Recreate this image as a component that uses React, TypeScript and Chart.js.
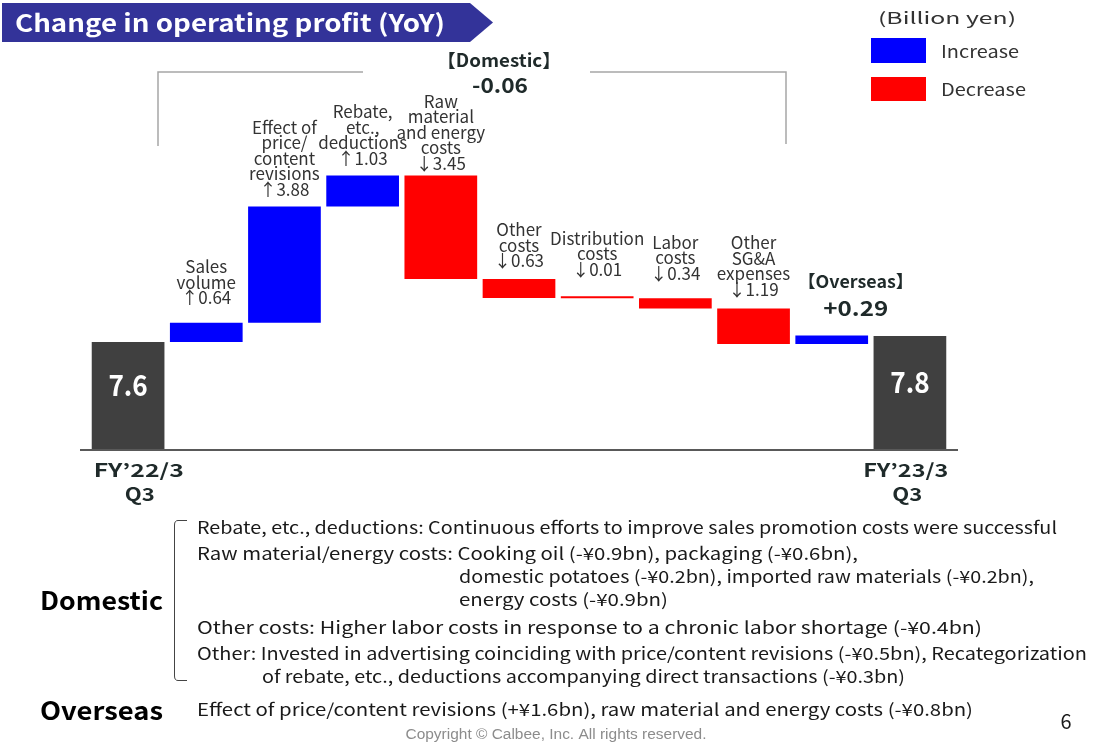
import React, { useEffect, useRef } from "react";
import { Chart, registerables } from "chart.js";

Chart.register(...registerables);

// ---------- data ----------
const categories = [
  "FY'22/3 Q3",
  "Sales volume",
  "Effect of price/content revisions",
  "Rebate, etc., deductions",
  "Raw material and energy costs",
  "Other costs",
  "Distribution costs",
  "Labor costs",
  "Other SG&A expenses",
  "Overseas",
  "FY'23/3 Q3",
];
const startValue = 7.6;
const endValue = 7.8;
const changes = [0.64, 3.88, 1.03, -3.45, -0.63, -0.01, -0.34, -1.19, 0.29];
const axisMin = 4;
const axisMax = 16;

const barLabels: string[][] = [
  [],
  ["Sales", "volume", "↑0.64"],
  ["Effect of", "price/", "content", "revisions", "↑3.88"],
  ["Rebate,", "etc.,", "deductions", "↑1.03"],
  ["Raw", "material", "and energy", "costs", "↓3.45"],
  ["Other", "costs", "↓0.63"],
  ["Distribution", "costs", "↓0.01"],
  ["Labor", "costs", "↓0.34"],
  ["Other", "SG&A", "expenses", "↓1.19"],
  ["【Overseas】", "+0.29"],
  [],
];
const endLabels = [
  ["FY’22/3", "Q3"],
  ["FY’23/3", "Q3"],
];
const domesticTitle = "【Domestic】";
const domesticTotal = "-0.06";
const unitText = "(Billion yen)";
const legendItems = ["Increase", "Decrease"];
const titleText = "Change in operating profit (YoY)";

const noteLines = [
  "Rebate, etc., deductions: Continuous efforts to improve sales promotion costs were successful",
  "Raw material/energy costs: Cooking oil (-¥0.9bn), packaging (-¥0.6bn),",
  "domestic potatoes (-¥0.2bn), imported raw materials (-¥0.2bn),",
  "energy costs (-¥0.9bn)",
  "Other costs: Higher labor costs in response to a chronic labor shortage (-¥0.4bn)",
  "Other: Invested in advertising coinciding with price/content revisions (-¥0.5bn), Recategorization",
  "of rebate, etc., deductions accompanying direct transactions (-¥0.3bn)",
];
const overseasNote =
  "Effect of price/content revisions (+¥1.6bn), raw material and energy costs (-¥0.8bn)";
const copyright = "Copyright © Calbee, Inc. All rights reserved.";
const pageNumber = "6";

// ---------- styles / layout ----------
const GRAY = "#404040";
const BLUE = "#0000ff";
const RED = "#ff0000";
const TEXT = "#333333";
const F = '"Noto Sans CJK JP", "Noto Sans", sans-serif';
// gap between bar top and the last line of its label
const labelLift = [0, 25, 17, 17, 12, 18, 27, 25, 19, 27, 0];
// note line layout: [x, y, targetWidth]
const noteLayout: [number, number, number][] = [
  [197, 528, 860],
  [197, 554, 661],
  [459, 577, 575],
  [459, 600, 209],
  [197, 628, 785],
  [197, 654, 890],
  [262, 677, 643],
];

function drawText(
  ctx: CanvasRenderingContext2D,
  text: string,
  x: number,
  y: number,
  font: string,
  color: string,
  align: CanvasTextAlign = "left",
  width?: number,
  sx = 1
) {
  ctx.save();
  ctx.font = font;
  ctx.fillStyle = color;
  ctx.textBaseline = "middle";
  ctx.textAlign = align;
  ctx.translate(x, y);
  if (width !== undefined) {
    const w = ctx.measureText(text).width;
    ctx.scale(width / w, 1);
  } else {
    ctx.scale(sx, 1);
  }
  ctx.fillText(text, 0, 0);
  ctx.restore();
}

const overlay = {
  id: "overlay",
  beforeDraw(chart: any) {
    const ctx = chart.ctx as CanvasRenderingContext2D;
    ctx.save();
    ctx.fillStyle = "#ffffff";
    ctx.fillRect(0, 0, chart.width, chart.height);
    ctx.restore();
  },
  afterDatasetsDraw(chart: any) {
    const ctx = chart.ctx as CanvasRenderingContext2D;
    const meta = chart.getDatasetMeta(0);
    const els = meta.data;
    const yBase = chart.scales.y.getPixelForValue(axisMin);

    // baseline
    ctx.save();
    ctx.strokeStyle = "#595959";
    ctx.lineWidth = 2;
    ctx.beginPath();
    ctx.moveTo(80, yBase);
    ctx.lineTo(958, yBase);
    ctx.stroke();
    ctx.restore();

    // title banner
    ctx.save();
    ctx.fillStyle = "#333399";
    ctx.beginPath();
    ctx.moveTo(2, 3);
    ctx.lineTo(470, 3);
    ctx.lineTo(493, 22.5);
    ctx.lineTo(470, 42);
    ctx.lineTo(2, 42);
    ctx.closePath();
    ctx.fill();
    ctx.restore();
    drawText(ctx, titleText, 15, 22.5, `bold 24px ${F}`, "#ffffff", "left", 430);

    // legend
    drawText(ctx, unitText, 878, 18, `16px ${F}`, TEXT, "left", 138);
    ctx.save();
    ctx.fillStyle = BLUE;
    ctx.fillRect(871, 38, 55, 25);
    ctx.fillStyle = RED;
    ctx.fillRect(871, 77, 55, 24);
    ctx.restore();
    drawText(ctx, legendItems[0], 941, 52, `17px ${F}`, TEXT, "left", 78);
    drawText(ctx, legendItems[1], 941, 90, `17px ${F}`, TEXT, "left", 85);

    // domestic bracket
    ctx.save();
    ctx.strokeStyle = "#a6a6a6";
    ctx.lineWidth = 1.5;
    ctx.beginPath();
    ctx.moveTo(158, 146);
    ctx.lineTo(158, 72);
    ctx.lineTo(363, 72);
    ctx.moveTo(590, 72);
    ctx.lineTo(786, 72);
    ctx.lineTo(786, 144);
    ctx.stroke();
    ctx.restore();
    drawText(ctx, domesticTitle, 499, 60, `bold 18px ${F}`, "#1f2a2a", "center", 124);
    drawText(ctx, domesticTotal, 500, 85, `bold 21px ${F}`, "#1f2a2a", "center", 56);

    // bar labels
    els.forEach((el: any, i: number) => {
      const lines = barLabels[i];
      if (!lines || !lines.length) return;
      const top = Math.min(el.y, el.base);
      const lastY = top - labelLift[i];
      if (i === 9) {
        drawText(ctx, lines[0], el.x + 24, lastY - 27, `bold 17px ${F}`, "#1f2a2a", "center", 116);
        drawText(ctx, lines[1], el.x + 24, lastY, `bold 21px ${F}`, "#1f2a2a", "center", 65);
        return;
      }
      const lh = 15.5;
      lines.forEach((ln, k) => {
        const y = lastY - (lines.length - 1 - k) * lh;
        drawText(ctx, ln, el.x, y, `17px ${F}`, TEXT, "center", undefined, 1.0);
      });
    });

    // values in start / end bars
    [0, els.length - 1].forEach((i) => {
      const el = els[i];
      const mid = (Math.min(el.y, el.base) + Math.max(el.y, el.base)) / 2;
      const v = i === 0 ? startValue : endValue;
      drawText(ctx, v.toFixed(1), el.x, mid - 11, `bold 29px ${F}`, "#ffffff", "center", undefined, 0.9);
    });

    // end labels
    const first = els[0];
    const last = els[els.length - 1];
    const fl = first.x - first.width / 2 + 2;
    drawText(ctx, endLabels[0][0], fl, 470, `bold 18px ${F}`, "#1f2a2a", "left", 90);
    drawText(ctx, endLabels[0][1], fl + 46, 494, `bold 18px ${F}`, "#1f2a2a", "center", 30);
    const lr = last.x + last.width / 2 + 2;
    drawText(ctx, endLabels[1][0], lr, 470, `bold 18px ${F}`, "#1f2a2a", "right", 85);
    drawText(ctx, endLabels[1][1], lr - 41, 494, `bold 18px ${F}`, "#1f2a2a", "center", 30);

    // bottom notes
    drawText(ctx, "Domestic", 40, 600, `bold 25px ${F}`, "#000000", "left", 123);
    drawText(ctx, "Overseas", 40, 710, `bold 25px ${F}`, "#000000", "left", 123);
    ctx.save();
    ctx.strokeStyle = "#444444";
    ctx.lineWidth = 1;
    ctx.beginPath();
    ctx.moveTo(187, 520.5);
    ctx.lineTo(178, 520.5);
    ctx.quadraticCurveTo(174.5, 520.5, 174.5, 525);
    ctx.lineTo(174.5, 676);
    ctx.quadraticCurveTo(174.5, 680.5, 178, 680.5);
    ctx.lineTo(187, 680.5);
    ctx.stroke();
    ctx.restore();
    noteLines.forEach((t, i) => {
      const [x, y, w] = noteLayout[i];
      drawText(ctx, t, x, y, `17px ${F}`, "#1a1a1a", "left", w);
    });
    drawText(ctx, overseasNote, 197, 710, `17px ${F}`, "#1a1a1a", "left", 776);
    drawText(ctx, pageNumber, 1066, 721, `20px ${F}`, "#1a1a1a", "center");
    drawText(ctx, copyright, 556, 735, `14px "Liberation Sans", Arial, sans-serif`, "#8c8c8c", "center", 301);
  },
};

const App = () => {
  const ref = useRef<HTMLCanvasElement>(null);
  useEffect(() => {
    if (!ref.current) return;
    const ranges: [number, number][] = [[axisMin, startValue]];
    let level = startValue;
    changes.forEach((c) => {
      const next = level + c;
      ranges.push([level, next]);
      level = next;
    });
    ranges.push([axisMin, endValue]);
    const colors = ranges.map((_, i) =>
      i === 0 || i === ranges.length - 1 ? GRAY : changes[i - 1] >= 0 ? BLUE : RED
    );
    const chart = new Chart(ref.current, {
      type: "bar",
      data: {
        labels: categories,
        datasets: [
          {
            data: ranges as any,
            backgroundColor: colors,
            borderWidth: 0,
            barPercentage: 0.93,
            categoryPercentage: 1,
            minBarLength: 2,
          },
        ],
      },
      options: {
        animation: false,
        responsive: false,
        layout: { padding: { left: 89, right: 145, top: 90, bottom: 294 } },
        scales: {
          x: { display: false },
          y: { display: false, min: axisMin, max: axisMax },
        },
        plugins: { legend: { display: false }, tooltip: { enabled: false } },
      },
      plugins: [overlay],
    });
    return () => chart.destroy();
  }, []);
  return (
    <div style={{ position: "absolute", left: 0, top: 0, width: 1094, height: 744, background: "#fff" }}>
      <canvas ref={ref} width={1094} height={744} style={{ display: "block" }} />
    </div>
  );
};

export default App;
